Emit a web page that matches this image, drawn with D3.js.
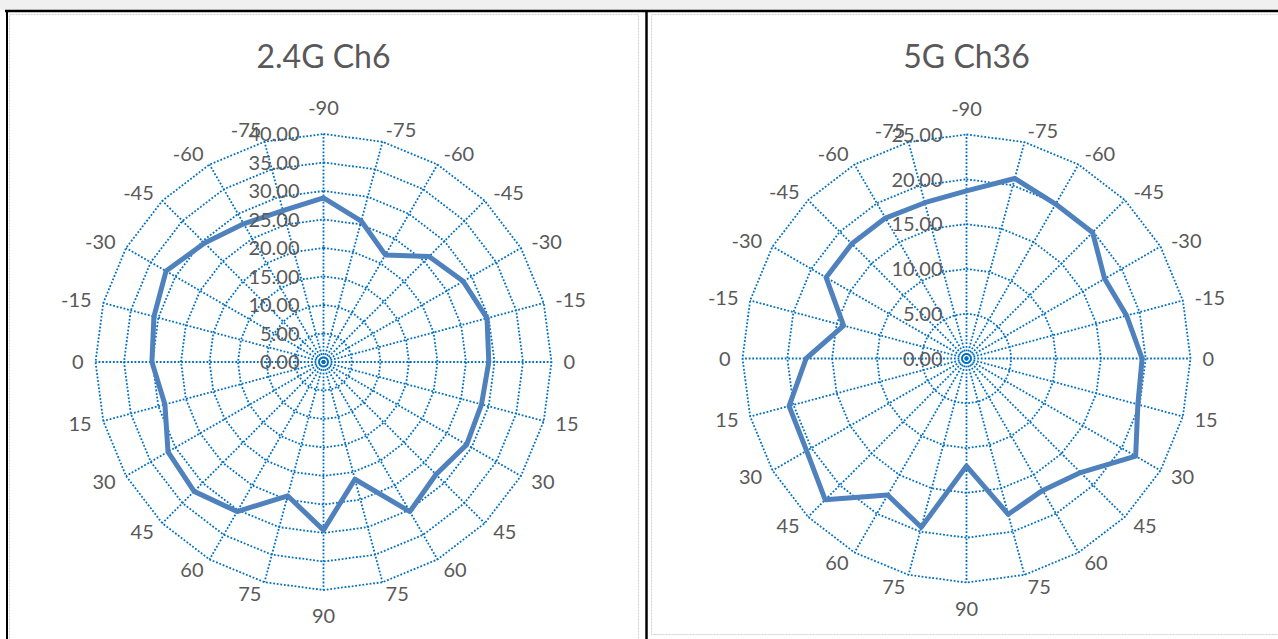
<!DOCTYPE html>
<html>
<head>
<meta charset="utf-8">
<script src="https://cdn.jsdelivr.net/npm/d3@7"></script>
<style>
  body { margin: 0; background: #fff; }
  text { font-family: Lato, "Open Sans", sans-serif; fill: #595959; }
</style>
</head>
<body>
<svg id="chart"></svg>
<script>
const width = 1278;
const height = 639;

// angle labels, clockwise from the top
const angles = ["-90", "-75", "-60", "-45", "-30", "-15", "0", "15", "30", "45", "60", "75",
    "90", "75", "60", "45", "30", "15", "0", "-15", "-30", "-45", "-60", "-75"];

const ch6Values = [28.8, 25.6, 21.7, 26.2, 28.3, 29.7, 29.0, 28.7, 29.0, 27.9, 30.3, 21.3,
    29.5, 24.3, 30.3, 32.1, 31.5, 28.8, 30.1, 30.8, 31.9, 29.5, 28.0, 27.5];
const ch6Ticks = [0, 5, 10, 15, 20, 25, 30, 35, 40];

const ch36Values = [18.7, 20.8, 19.9, 19.9, 17.8, 18.5, 19.6, 19.8, 21.8, 18.0, 17.0, 18.0,
    12.0, 19.5, 17.6, 22.3, 20.6, 20.5, 17.9, 14.2, 18.1, 18.1, 18.1, 18.0];
const ch36Ticks = [0, 5, 10, 15, 20, 25];

const svg = d3.select("#chart")
    .attr("width", width)
    .attr("height", height);

// spreadsheet frame around the two charts
svg.append("rect").attr("x", 0).attr("y", 0).attr("width", width).attr("height", 10).attr("fill", "#f0f0f0");
svg.append("rect").attr("x", 9.5).attr("y", 14.5).attr("width", 629).attr("height", 700)
    .attr("fill", "none").attr("stroke", "#d0d0d0").attr("stroke-dasharray", "2,1");
svg.append("rect").attr("x", 651.5).attr("y", 14.5).attr("width", 700).attr("height", 620)
    .attr("fill", "none").attr("stroke", "#d0d0d0").attr("stroke-dasharray", "2,1");
svg.append("line").attr("x1", 5).attr("x2", width).attr("y1", 11).attr("y2", 11)
    .attr("stroke", "#000").attr("stroke-width", 2.5);
svg.append("line").attr("x1", 7).attr("x2", 7).attr("y1", 10).attr("y2", height)
    .attr("stroke", "#000").attr("stroke-width", 2);
svg.append("line").attr("x1", 646.5).attr("x2", 646.5).attr("y1", 10).attr("y2", height)
    .attr("stroke", "#000").attr("stroke-width", 2.5);

function drawRadar(title, values, ticks, cx, cy, R) {
    const g = svg.append("g").attr("transform", `translate(${cx},${cy})`);
    const n = angles.length;
    const angle = d3.scaleLinear().domain([0, n]).range([0, 2 * Math.PI]);
    const r = d3.scaleLinear().domain([0, d3.max(ticks)]).range([0, R]);

    svg.append("text")
        .attr("x", cx).attr("y", 68)
        .attr("text-anchor", "middle")
        .attr("font-size", 32)
        .text(title);

    const grid = g.append("g")
        .attr("fill", "none")
        .attr("stroke", "#0070c0")
        .attr("stroke-width", 1.8)
        .attr("stroke-dasharray", "1.8,1.8");

    // rings
    const ring = d3.lineRadial().angle((d, i) => angle(i)).radius(d => r(d)).curve(d3.curveLinearClosed);
    grid.selectAll(".ring")
        .data(ticks.filter(t => t > 0))
        .enter().append("path")
        .attr("d", t => ring(d3.range(n).map(() => t)));

    // spokes
    grid.selectAll(".spoke")
        .data(d3.range(n))
        .enter().append("line")
        .attr("x1", 0).attr("y1", 0)
        .attr("x2", i => R * Math.sin(angle(i)))
        .attr("y2", i => -R * Math.cos(angle(i)));

    // series
    const line = d3.lineRadial().angle((d, i) => angle(i)).radius(d => r(d)).curve(d3.curveLinearClosed);
    g.append("path")
        .attr("d", line(values))
        .attr("fill", "none")
        .attr("stroke", "#4f81bd")
        .attr("stroke-width", 5)
        .attr("stroke-linejoin", "round");

    // value labels
    g.selectAll(".tick")
        .data(ticks)
        .enter().append("text")
        .attr("x", -24)
        .attr("y", t => -r(t))
        .attr("dy", "0.36em")
        .attr("text-anchor", "end")
        .attr("font-size", 20)
        .text(t => t.toFixed(2));

    // angle labels
    const pad = R + 12;
    g.selectAll(".cat")
        .data(angles)
        .enter().append("text")
        .attr("x", (d, i) => pad * Math.sin(angle(i)))
        .attr("y", (d, i) => {
            const y = -pad * Math.cos(angle(i));
            if (i === 0) return y - 14;
            if (i === n / 2) return y + 14;
            return y;
        })
        .attr("dy", "0.36em")
        .attr("text-anchor", (d, i) => (i === 0 || i === n / 2) ? "middle" : (i < n / 2 ? "start" : "end"))
        .attr("font-size", 20)
        .text(d => d);
}

drawRadar("2.4G Ch6", ch6Values, ch6Ticks, 323.5, 362, 228);
drawRadar("5G Ch36", ch36Values, ch36Ticks, 966.5, 358.5, 224);
</script>
</body>
</html>
